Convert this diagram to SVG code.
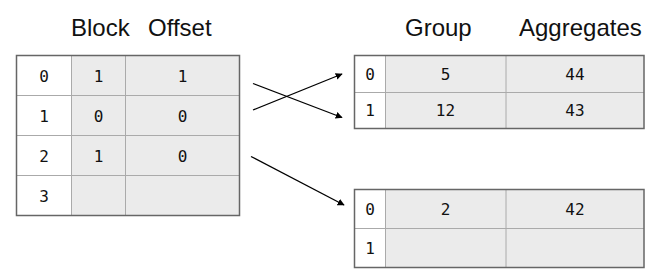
<svg xmlns="http://www.w3.org/2000/svg" width="660" height="280" viewBox="0 0 660 280">
<style>
.hdr{font-family:"Liberation Sans",Arial,sans-serif;font-size:24px;fill:#111}
.num{font-family:"DejaVu Sans Mono","Liberation Mono",monospace;font-size:16px;fill:#111;text-anchor:middle}
.idx{fill:#fff}
.cell{fill:#ebebeb}
.grid{stroke:#aaa;stroke-width:1;fill:none}
.outer{fill:none;stroke:#666;stroke-width:1.5}
.conn{stroke:#000;stroke-width:1.3;fill:none;marker-end:url(#ah)}
</style>
<defs>
<marker id="ah" viewBox="0 0 10 10" refX="9" refY="5" markerWidth="7" markerHeight="7" markerUnits="userSpaceOnUse" orient="auto">
<path d="M0,0 L10,5 L0,10 z" fill="#000"/>
</marker>
</defs>
<g id="headers">
<text class="hdr" x="71" y="36">Block</text>
<text class="hdr" x="148" y="36">Offset</text>
<text class="hdr" x="405" y="36">Group</text>
<text class="hdr" x="519" y="36">Aggregates</text>
</g>
<g id="block-table">
<rect class="idx" x="16.5" y="55.5" width="55" height="160"/>
<rect class="cell" x="71.5" y="55.5" width="168" height="160"/>
<path class="grid" d="M71.5,55.5V215.5M125.5,55.5V215.5M16.5,95.5H239.5M16.5,135.5H239.5M16.5,175.5H239.5"/>
<rect class="outer" x="16.5" y="55.5" width="223" height="160"/>
<text class="num" x="44" y="81.5">0</text><text class="num" x="98.5" y="81.5">1</text><text class="num" x="182.5" y="81.5">1</text>
<text class="num" x="44" y="121.5">1</text><text class="num" x="98.5" y="121.5">0</text><text class="num" x="182.5" y="121.5">0</text>
<text class="num" x="44" y="161.5">2</text><text class="num" x="98.5" y="161.5">1</text><text class="num" x="182.5" y="161.5">0</text>
<text class="num" x="44" y="201.5">3</text>
</g>
<g id="group-table-1">
<rect class="idx" x="354.5" y="55.5" width="31" height="73"/>
<rect class="cell" x="385.5" y="55.5" width="258.5" height="73"/>
<path class="grid" d="M385.5,55.5V128.5M506,55.5V128.5M354.5,92.5H644"/>
<rect class="outer" x="354.5" y="55.5" width="289.5" height="73"/>
<text class="num" x="370" y="79.5">0</text><text class="num" x="445.5" y="79.5">5</text><text class="num" x="575" y="79.5">44</text>
<text class="num" x="370" y="116">1</text><text class="num" x="445.5" y="116">12</text><text class="num" x="575" y="116">43</text>
</g>
<g id="group-table-2">
<rect class="idx" x="354.5" y="189.5" width="31" height="78"/>
<rect class="cell" x="385.5" y="189.5" width="258.5" height="78"/>
<path class="grid" d="M385.5,189.5V267.5M506,189.5V267.5M354.5,228.5H644"/>
<rect class="outer" x="354.5" y="189.5" width="289.5" height="78"/>
<text class="num" x="370" y="214.5">0</text><text class="num" x="445.5" y="214.5">2</text><text class="num" x="575" y="214.5">42</text>
<text class="num" x="370" y="253.5">1</text>
</g>
<g id="connectors">
<line class="conn" x1="253" y1="110" x2="342" y2="74"/>
<line class="conn" x1="253" y1="83.5" x2="342" y2="117.5"/>
<line class="conn" x1="251" y1="156.5" x2="344" y2="205"/>
</g>
</svg>
